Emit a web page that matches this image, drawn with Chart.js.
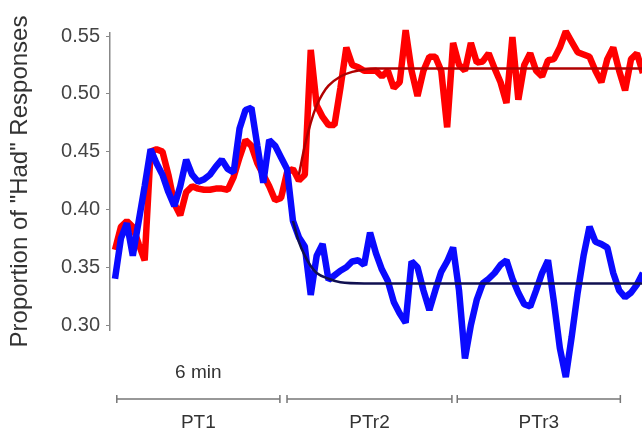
<!DOCTYPE html>
<html><head><meta charset="utf-8">
<script src="https://cdn.jsdelivr.net/npm/chart.js@4/dist/chart.umd.min.js"></script>
<style>html,body{margin:0;padding:0;background:#fff}#wrap{width:642px;height:436px;position:relative}canvas{display:block}</style>
</head><body><div id="wrap"><canvas id="c" width="642" height="436"></canvas></div>
<script>
// sampling: one value every 0.2 min
const stepMinutes = 0.2;
const redValues = [
0.365,0.385,0.39,0.385,0.37,0.356,0.45,0.452,0.45,0.43,
0.405,0.395,0.415,0.42,0.418,0.417,0.417,0.418,0.418,0.417,
0.428,0.445,0.46,0.455,0.44,0.43,0.42,0.408,0.41,0.432,
0.435,0.425,0.43,0.538,0.49,0.48,0.473,0.473,0.505,0.54,
0.525,0.523,0.52,0.52,0.52,0.515,0.52,0.505,0.51,0.555,
0.52,0.498,0.52,0.532,0.532,0.52,0.471,0.544,0.525,0.52,
0.544,0.527,0.528,0.535,0.522,0.51,0.492,0.549,0.495,0.525,
0.535,0.52,0.515,0.529,0.53,0.54,0.554,0.545,0.536,0.534,
0.532,0.52,0.51,0.53,0.54,0.52,0.503,0.53,0.535,0.518];
const blueValues = [
0.34,0.375,0.388,0.36,0.39,0.42,0.452,0.44,0.43,0.415,
0.403,0.42,0.443,0.43,0.424,0.426,0.43,0.437,0.443,0.435,
0.432,0.47,0.486,0.488,0.455,0.423,0.46,0.455,0.445,0.435,
0.39,0.376,0.368,0.326,0.36,0.37,0.339,0.343,0.347,0.35,
0.355,0.356,0.352,0.38,0.362,0.348,0.338,0.32,0.31,0.302,
0.355,0.35,0.33,0.313,0.33,0.346,0.355,0.367,0.33,0.271,
0.3,0.322,0.336,0.34,0.345,0.352,0.356,0.34,0.328,0.318,
0.316,0.33,0.345,0.356,0.32,0.28,0.255,0.29,0.328,0.36,
0.385,0.372,0.37,0.367,0.345,0.33,0.324,0.328,0.335,0.345];
// fitted curves: [minute, value]
const redFit = [[6.2,0.43],[6.4,0.455],[6.6,0.475],[6.8,0.49],[7.0,0.5],[7.2,0.507],[7.6,0.515],[8.0,0.519],[8.8,0.522],[17.8,0.522]];
const blueFit = [[6.0,0.39],[6.2,0.372],[6.4,0.36],[6.6,0.351],[6.8,0.345],[7.2,0.34],[7.6,0.337],[8.4,0.336],[17.8,0.336]];
const yTicks = [0.30,0.35,0.40,0.45,0.50,0.55];
const phases = [
  {label:'PT1', start:0.06, end:5.56},
  {label:'PTr2', start:5.8, end:11.36},
  {label:'PTr3', start:11.54, end:17.04}];
const scaleNote = '6 min';
const yTitle = 'Proportion of "Had" Responses';

const toPts = arr => arr.map((v,i)=>({x:i*stepMinutes, y:v}));
const fitPts = arr => arr.map(p=>({x:p[0], y:p[1]}));

const timeline = {
  id:'timeline',
  afterDraw(chart){
    const ctx = chart.ctx, xs = chart.scales.x;
    const yLine = 399;
    ctx.save();
    ctx.strokeStyle = '#777'; ctx.lineWidth = 1.5;
    ctx.fillStyle = '#333';
    ctx.font = '19px "Liberation Sans", Arial, sans-serif';
    ctx.textAlign = 'center'; ctx.textBaseline = 'middle';
    phases.forEach(p=>{
      const a = xs.getPixelForValue(p.start), b = xs.getPixelForValue(p.end);
      ctx.beginPath();
      ctx.moveTo(a, yLine); ctx.lineTo(b, yLine);
      ctx.moveTo(a, yLine-4); ctx.lineTo(a, yLine+4);
      ctx.moveTo(b, yLine-4); ctx.lineTo(b, yLine+4);
      ctx.stroke();
      ctx.fillText(p.label, (a+b)/2, 423);
    });
    const p0 = phases[0];
    ctx.fillText(scaleNote, (xs.getPixelForValue(p0.start)+xs.getPixelForValue(p0.end))/2, 373);
    ctx.restore();
  }
};

new Chart(document.getElementById('c'), {
  type:'line',
  data:{datasets:[
    {data:fitPts(redFit), borderColor:'#b00000', borderWidth:2.5, pointRadius:0, cubicInterpolationMode:'monotone', clip:false},
    {data:fitPts(blueFit), borderColor:'#101050', borderWidth:2.5, pointRadius:0, cubicInterpolationMode:'monotone', clip:false},
    {data:toPts(blueValues), borderColor:'#0a0aff', borderWidth:6.5, pointRadius:0, borderJoinStyle:'bevel', clip:false},
    {data:toPts(redValues), borderColor:'#ff0000', borderWidth:6.5, pointRadius:0, borderJoinStyle:'bevel', clip:false}
  ]},
  options:{
    responsive:false, animation:false, devicePixelRatio:1,
    layout:{padding:{top:33, bottom:106, left:0, right:0}},
    plugins:{legend:{display:false}, tooltip:{enabled:false}},
    scales:{
      x:{type:'linear', display:false, min:-0.169, max:17.77},
      y:{type:'linear', min:0.2957, max:0.5526,
        afterFit(s){ s.width = 110; },
        afterBuildTicks(s){ s.ticks = yTicks.map(v=>({value:v})); },
        border:{display:true, color:'#888', width:1.5},
        grid:{drawOnChartArea:false, drawTicks:true, tickLength:4, color:'#888'},
        ticks:{padding:6, color:'#444', font:{size:20, family:'"Liberation Sans", Arial, sans-serif'}, callback:v=>v.toFixed(2)},
        title:{display:true, text:yTitle, color:'#333', font:{size:24, family:'"Liberation Sans", Arial, sans-serif'}, padding:{top:6,bottom:0}}
      }
    }
  },
  plugins:[timeline]
});
</script></body></html>
